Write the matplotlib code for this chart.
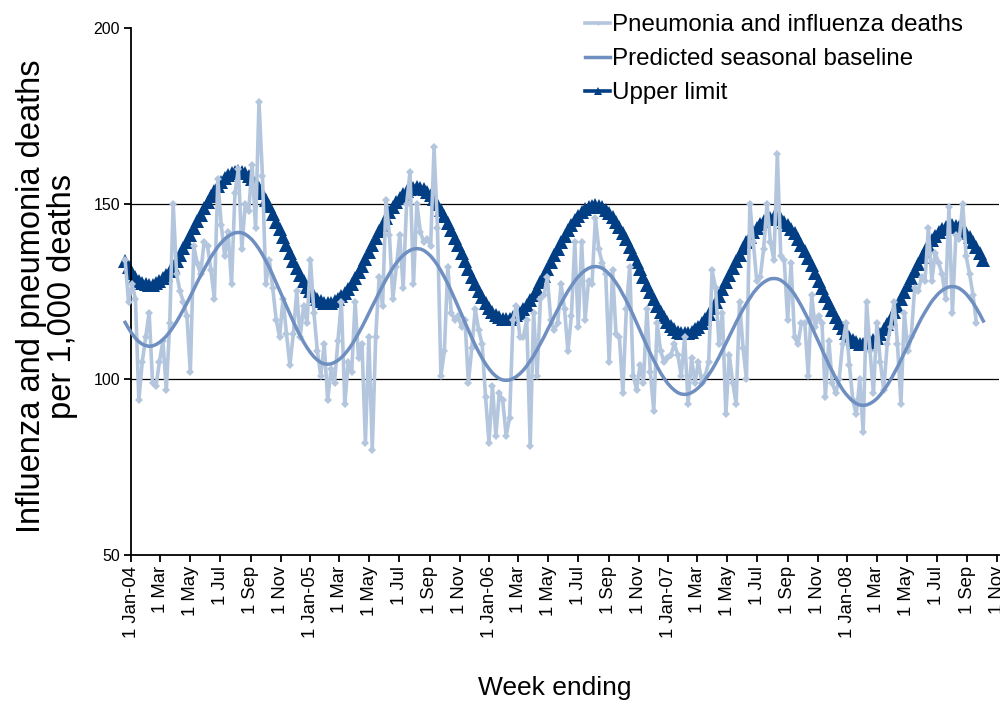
import matplotlib
matplotlib.use('Agg')
import matplotlib.pyplot as plt
import pandas as pd

plt.rcParams['font.family'] = ['Liberation Sans', 'DejaVu Sans']

# ---------------- data (weekly, week ending) ----------------
first_week = '2003-12-20'

observed = [
    134, 122, 127, 123, 94, 105, 112, 119, 99, 98, 105, 111, 97, 116, 150, 130,
    125, 122, 118, 102, 138, 133, 130, 139, 138, 131, 123, 157, 144, 135, 142, 127,
    153, 160, 137, 150, 148, 161, 143, 179, 158, 127, 134, 126, 117, 112, 123, 113,
    104, 113, 125, 112, 121, 116, 134, 119, 108, 101, 110, 94, 103, 99, 111, 122,
    93, 105, 102, 122, 106, 110, 82, 112, 80, 112, 129, 121, 151, 141, 123, 132,
    141, 126, 150, 159, 127, 150, 142, 139, 140, 138, 166, 143, 101, 108, 132, 119,
    117, 118, 115, 117, 99, 109, 120, 114, 110, 95, 82, 98, 84, 96, 94, 84,
    89, 117, 121, 112, 112, 117, 81, 119, 101, 123, 124, 129, 117, 114, 116, 127,
    120, 108, 118, 139, 115, 139, 117, 128, 127, 146, 137, 133, 130, 105, 131, 113,
    112, 96, 120, 132, 101, 97, 104, 99, 120, 102, 91, 116, 108, 105, 106, 107,
    110, 107, 101, 112, 93, 106, 99, 105, 99, 101, 105, 131, 126, 110, 119, 90,
    107, 99, 93, 122, 109, 100, 150, 139, 128, 129, 137, 150, 139, 134, 164, 135,
    134, 117, 133, 112, 110, 116, 116, 101, 124, 115, 118, 116, 95, 111, 99, 96,
    100, 110, 116, 104, 94, 90, 100, 85, 122, 108, 96, 116, 105, 97, 110, 115,
    122, 110, 93, 119, 108, 112, 126, 125, 129, 128, 143, 128, 136, 133, 130, 123,
    149, 119, 141, 140, 150, 135, 130, 124, 116,
]

baseline = [
    116.2, 114.5, 113.0, 111.7, 110.7, 110.0, 109.6, 109.4,
    109.5, 109.9, 110.5, 111.3, 112.3, 113.5, 114.9, 116.4, 118.1, 119.9, 121.7, 123.6,
    125.6, 127.6, 129.5, 131.3, 133.1, 134.8, 136.3, 137.7, 138.9, 139.9, 140.7, 141.3,
    141.7, 141.8,
    141.7, 141.3, 140.6, 139.7, 138.5, 137.1, 135.5, 133.7, 131.8, 129.7, 127.5, 125.3,
    123.1, 120.8, 118.6, 116.4, 114.3, 112.4, 110.6, 109.0, 107.6, 106.4, 105.5, 104.8,
    104.4, 104.3,
    104.4, 104.8, 105.4, 106.2, 107.2, 108.4, 109.8, 111.4, 113.1, 114.9, 116.8, 118.8,
    120.8, 122.7, 124.7, 126.6, 128.4, 130.1, 131.7, 133.1, 134.3, 135.3, 136.1, 136.7,
    137.1, 137.2,
    137.1, 136.7, 136.0, 135.1, 133.9, 132.5, 130.9, 129.1, 127.2, 125.1, 122.9, 120.7,
    118.5, 116.2, 114.0, 111.8, 109.7, 107.8, 106.0, 104.4, 103.0, 101.8, 100.9, 100.2,
    99.8, 99.7,
    99.8, 100.2, 100.8, 101.6, 102.6, 103.8, 105.2, 106.7, 108.4, 110.2, 112.0, 114.0,
    115.9, 117.9, 119.8, 121.6, 123.4, 125.1, 126.6, 128.0, 129.2, 130.2, 131.0, 131.6,
    132.0, 132.1,
    132.0, 131.6, 130.9, 130.0, 128.9, 127.5, 126.0, 124.2, 122.4, 120.4, 118.3, 116.1,
    113.9, 111.7, 109.5, 107.4, 105.4, 103.6, 101.8, 100.3, 98.9, 97.8, 96.9, 96.2,
    95.8, 95.7,
    95.8, 96.2, 96.8, 97.6, 98.6, 99.9, 101.3, 102.8, 104.5, 106.3, 108.3, 110.2,
    112.2, 114.2, 116.2, 118.1, 119.9, 121.6, 123.1, 124.6, 125.8, 126.8, 127.6, 128.2,
    128.6, 128.7,
    128.6, 128.2, 127.5, 126.6, 125.5, 124.2, 122.6, 120.9, 119.0, 117.1, 115.0, 112.8,
    110.7, 108.5, 106.3, 104.2, 102.3, 100.4, 98.7, 97.1, 95.8, 94.7, 93.8, 93.1,
    92.7, 92.6,
    92.7, 93.1, 93.7, 94.5, 95.6, 96.9, 98.3, 99.9, 101.7, 103.5, 105.5, 107.5,
    109.5, 111.5, 113.5, 115.5, 117.4, 119.1, 120.7, 122.2, 123.4, 124.5, 125.3, 125.9,
    126.3, 126.4,
    126.3, 125.9, 125.2, 124.3, 123.1, 121.8, 120.2, 118.5, 116.6,
]

upper = [
    133.6, 131.9, 130.4, 129.1, 128.1, 127.4, 127.0, 126.8,
    126.9, 127.3, 127.9, 128.7, 129.7, 130.9, 132.3, 133.8, 135.5, 137.3, 139.1, 141.0,
    143.0, 145.0, 146.9, 148.7, 150.5, 152.2, 153.7, 155.1, 156.3, 157.3, 158.1, 158.7,
    159.1, 159.2,
    159.1, 158.7, 158.0, 157.1, 155.9, 154.5, 152.9, 151.1, 149.2, 147.1, 144.9, 142.7,
    140.5, 138.2, 136.0, 133.8, 131.7, 129.8, 128.0, 126.4, 125.0, 123.8, 122.9, 122.2,
    121.8, 121.7,
    121.8, 122.2, 122.8, 123.6, 124.6, 125.8, 127.2, 128.8, 130.5, 132.3, 134.2, 136.2,
    138.2, 140.1, 142.1, 144.0, 145.8, 147.5, 149.1, 150.5, 151.7, 152.7, 153.5, 154.1,
    154.5, 154.6,
    154.5, 154.1, 153.4, 152.5, 151.3, 149.9, 148.3, 146.5, 144.6, 142.5, 140.3, 138.1,
    135.9, 133.6, 131.4, 129.2, 127.1, 125.2, 123.4, 121.8, 120.4, 119.2, 118.3, 117.6,
    117.2, 117.1,
    117.2, 117.6, 118.2, 119.0, 120.0, 121.2, 122.6, 124.1, 125.8, 127.6, 129.4, 131.4,
    133.3, 135.3, 137.2, 139.0, 140.8, 142.5, 144.0, 145.4, 146.6, 147.6, 148.4, 149.0,
    149.4, 149.5,
    149.4, 149.0, 148.3, 147.4, 146.3, 144.9, 143.4, 141.6, 139.8, 137.8, 135.7, 133.5,
    131.3, 129.1, 126.9, 124.8, 122.8, 121.0, 119.2, 117.7, 116.3, 115.2, 114.3, 113.6,
    113.2, 113.1,
    113.2, 113.6, 114.2, 115.0, 116.0, 117.3, 118.7, 120.2, 121.9, 123.7, 125.7, 127.6,
    129.6, 131.6, 133.6, 135.5, 137.3, 139.0, 140.5, 142.0, 143.2, 144.2, 145.0, 145.6,
    146.0, 146.1,
    146.0, 145.6, 144.9, 144.0, 142.9, 141.6, 140.0, 138.3, 136.4, 134.5, 132.4, 130.2,
    128.1, 125.9, 123.7, 121.6, 119.7, 117.8, 116.1, 114.5, 113.2, 112.1, 111.2, 110.5,
    110.1, 110.0,
    110.1, 110.5, 111.1, 111.9, 113.0, 114.3, 115.7, 117.3, 119.1, 120.9, 122.9, 124.9,
    126.9, 128.9, 130.9, 132.9, 134.8, 136.5, 138.1, 139.6, 140.8, 141.9, 142.7, 143.3,
    143.7, 143.8,
    143.7, 143.3, 142.6, 141.7, 140.5, 139.2, 137.6, 135.9, 134.0,
]

tick_labels = [
    '1 Jan-04', '1 Mar', '1 May', '1 Jul', '1 Sep', '1 Nov',
    '1 Jan-05', '1 Mar', '1 May', '1 Jul', '1 Sep', '1 Nov',
    '1 Jan-06', '1 Mar', '1 May', '1 Jul', '1 Sep', '1 Nov',
    '1 Jan-07', '1 Mar', '1 May', '1 Jul', '1 Sep', '1 Nov',
    '1 Jan-08', '1 Mar', '1 May', '1 Jul', '1 Sep', '1 Nov',
]
y_ticks = [50, 100, 150, 200]
grid_values = [100, 150]

series_names = ['Pneumonia and influenza deaths',
                'Predicted seasonal baseline',
                'Upper limit']

# ---------------- plot ----------------
weeks = pd.date_range(first_week, periods=len(upper), freq='7D')
tick_dates = pd.date_range('2004-01-01', periods=len(tick_labels), freq='2MS')

fig = plt.figure(figsize=(10, 7.01), dpi=100)
ax = fig.add_axes([0.131, 0.2083, 0.868, 0.7518])

for g in grid_values:
    ax.axhline(g, color='black', lw=0.9, zorder=1)

c_obs = '#B3C6DD'
c_base = '#6E8FC0'
c_up = '#023E84'

l_up, = ax.plot(weeks[:len(upper)], upper, color=c_up, lw=2.6, marker='^',
                markersize=9.5, markeredgewidth=0, zorder=2, clip_on=False,
                label=series_names[2])
l_obs, = ax.plot(weeks[:len(observed)], observed, color=c_obs, lw=2.6, marker='D',
                 markersize=4, markeredgewidth=0, zorder=3, clip_on=False,
                 label=series_names[0])
l_base, = ax.plot(weeks[:len(baseline)], baseline, color=c_base, lw=2.5,
                  zorder=4, clip_on=False, label=series_names[1])

ax.set_xlim(pd.Timestamp('2004-01-01'), pd.Timestamp('2008-11-05'))
ax.set_ylim(50, 200)
ax.set_yticks(y_ticks)
ax.set_yticklabels([str(v) for v in y_ticks], fontsize=11.5)
ax.set_xticks(tick_dates)
ax.set_xticklabels(tick_labels, rotation=90, fontsize=13.3)

for s in ['top', 'right']:
    ax.spines[s].set_visible(False)
for s in ['left', 'bottom']:
    ax.spines[s].set_linewidth(1.3)
    ax.spines[s].set_color('black')
ax.tick_params(axis='both', direction='out', length=5, width=1.3, color='black', pad=3)

ax.set_ylabel('Influenza and pneumonia deaths\nper 1,000 deaths', fontsize=23.5,
              linespacing=1.0)
ax.yaxis.set_label_coords(-0.061, 0.49)
fig.text(0.555, 1 - 688 / 701, 'Week ending', fontsize=19, ha='center', va='center')

leg = fig.legend(handles=[l_obs, l_base, l_up], labels=series_names,
                 loc='upper left', bbox_to_anchor=(0.585, 1 - 14 / 701),
                 frameon=False, fontsize=17.4, handlelength=1.05,
                 handletextpad=0.08, labelspacing=0.5, borderpad=0,
                 borderaxespad=0, markerscale=0.6)

fig.savefig('out.png', dpi=100)
